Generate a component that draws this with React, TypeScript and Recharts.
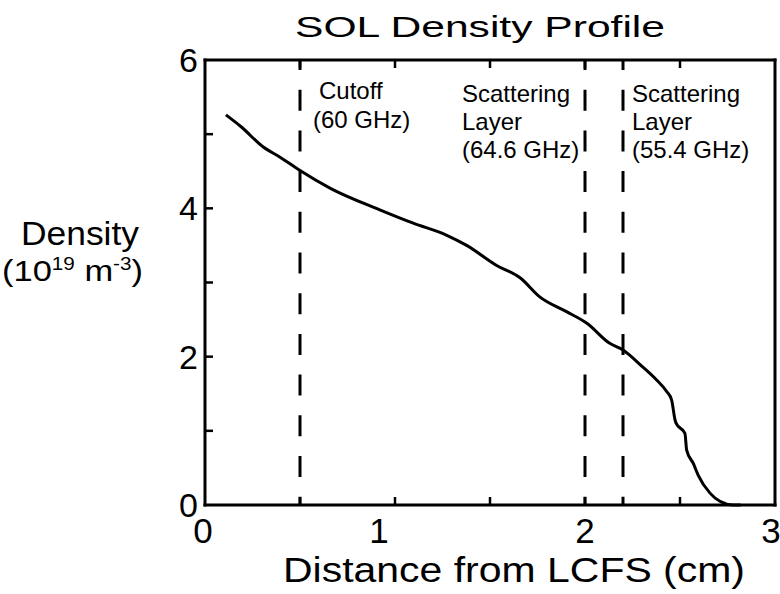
import React from 'react';
import { LineChart, Line, XAxis, YAxis, ReferenceLine } from 'recharts';

const distance = [0.11, 0.19, 0.305, 0.395, 0.5, 0.66, 0.92, 1.096, 1.27, 1.377, 1.535, 1.66, 1.76, 1.9, 2.01, 2.13, 2.2, 2.3, 2.377, 2.43, 2.456, 2.474, 2.48, 2.526, 2.535, 2.57, 2.596, 2.658, 2.71, 2.78, 2.82];
const density = [5.26, 5.1, 4.83, 4.69, 4.51, 4.27, 3.98, 3.8, 3.64, 3.5, 3.23, 3.06, 2.81, 2.61, 2.45, 2.18, 2.09, 1.87, 1.685, 1.53, 1.415, 1.146, 1.1, 0.966, 0.74, 0.56, 0.4, 0.16, 0.05, 0.0, 0.0];

const xTicks = [0, 0.5, 1, 1.5, 2, 2.5, 3];
const xTickLabels = [0, 1, 2, 3];
const yTicks = [0, 1, 2, 3, 4, 5, 6];
const yTickLabels = [0, 2, 4, 6];

const markerPositions = [0.5, 2.0, 2.2];
const markerTexts = [
  ['Cutoff', '(60 GHz)'],
  ['Scattering', 'Layer', '(64.6 GHz)'],
  ['Scattering', 'Layer', '(55.4 GHz)'],
];

const title = 'SOL Density Profile';
const xLabel = 'Distance from LCFS (cm)';
const yLabel = 'Density';

const data = distance.map((d, i) => ({ x: d, y: density[i] }));

const FONT = '"Liberation Sans", Arial, Helvetica, sans-serif';
const TICK_LEN = 8;

const BottomTick = (props: any) => {
  const { x, y, payload } = props;
  const v = payload.value;
  const showLabel = xTickLabels.includes(v);
  const inner = v !== 0 && v !== 3;
  const dx = v === 1 ? -16 : v === 3 ? -4 : v === 0 ? -2 : 0;
  return (
    <g>
      {inner && <line x1={x} y1={y} x2={x} y2={y - TICK_LEN} stroke="#000" strokeWidth={2.5} />}
      {showLabel && (
        <text x={x + dx} y={y + 38} textAnchor="middle" fontFamily={FONT} fontSize={35} fill="#000">
          {v}
        </text>
      )}
    </g>
  );
};

const TopTick = (props: any) => {
  const { x, y, payload } = props;
  const v = payload.value;
  if (v === 0 || v === 3) return <g />;
  return <line x1={x} y1={y} x2={x} y2={y + TICK_LEN} stroke="#000" strokeWidth={2.5} />;
};

const LeftTick = (props: any) => {
  const { x, y, payload } = props;
  const v = payload.value;
  const showLabel = yTickLabels.includes(v);
  const inner = v !== 0 && v !== 6;
  return (
    <g>
      {inner && <line x1={x} y1={y} x2={x + TICK_LEN} y2={y} stroke="#000" strokeWidth={2.5} />}
      {showLabel && (
        <text x={x - 7} y={y + 12} textAnchor="end" fontFamily={FONT} fontSize={34} fill="#000">
          {v}
        </text>
      )}
    </g>
  );
};

const RightTick = (props: any) => {
  const { x, y, payload } = props;
  const v = payload.value;
  if (v === 0 || v === 6) return <g />;
  return <line x1={x} y1={y} x2={x - TICK_LEN} y2={y} stroke="#000" strokeWidth={2.5} />;
};

const annotationOffsets = [
  [19, 13],
  [-123, -123, -123],
  [9, 9, 9],
];
const annotationBaselines = [
  [39, 68],
  [42, 70, 98],
  [42, 70, 98],
];

const makeLabel = (idx: number) => (p: any) => {
  const vb = p.viewBox || {};
  const lx = vb.x ?? 0;
  const ty = vb.y ?? 0;
  return (
    <g>
      {markerTexts[idx].map((t, i) => (
        <text
          key={i}
          x={lx + annotationOffsets[idx][i]}
          y={ty + annotationBaselines[idx][i]}
          fontFamily={FONT}
          fontSize={24}
          fill="#000"
        >
          {t}
        </text>
      ))}
    </g>
  );
};

const axisLineStyle = { stroke: '#000', strokeWidth: 3, strokeLinecap: 'square' as const };

export default function App() {
  return (
    <div style={{ position: 'absolute', left: 0, top: 0, width: 780, height: 594, background: '#fff' }}>
      <LineChart width={780} height={594} data={data} margin={{ top: 59, right: 4, bottom: 0, left: 0 }}>
        <XAxis
          dataKey="x"
          type="number"
          domain={[0, 3]}
          ticks={xTicks}
          interval={0}
          height={89}
          tickSize={0}
          tickMargin={0}
          tickLine={false}
          tick={<BottomTick />}
          axisLine={axisLineStyle}
        />
        <XAxis
          xAxisId="top"
          orientation="top"
          dataKey="x"
          type="number"
          domain={[0, 3]}
          ticks={xTicks}
          interval={0}
          height={1}
          tickSize={0}
          tickMargin={0}
          tickLine={false}
          tick={<TopTick />}
          axisLine={axisLineStyle}
        />
        <YAxis
          type="number"
          domain={[0, 6]}
          ticks={yTicks}
          interval={0}
          width={205}
          tickSize={0}
          tickMargin={0}
          tickLine={false}
          tick={<LeftTick />}
          axisLine={axisLineStyle}
        />
        <YAxis
          yAxisId="right"
          orientation="right"
          type="number"
          domain={[0, 6]}
          ticks={yTicks}
          interval={0}
          width={1}
          tickSize={0}
          tickMargin={0}
          tickLine={false}
          tick={<RightTick />}
          axisLine={axisLineStyle}
        />
        {markerPositions.map((m, i) => (
          <ReferenceLine
            key={i}
            x={m}
            stroke="#000"
            strokeWidth={3}
            strokeDasharray="21 19.7"
            strokeDashoffset={12.7}
            label={makeLabel(i)}
          />
        ))}
        <Line
          type="monotone"
          dataKey="y"
          stroke="#000"
          strokeWidth={3}
          dot={false}
          isAnimationActive={false}
        />
      </LineChart>
      <svg width={780} height={594} style={{ position: 'absolute', left: 0, top: 0, pointerEvents: 'none' }}>
        <text x={295} y={37} fontFamily={FONT} fontSize={30} textLength={370} lengthAdjust="spacingAndGlyphs" fill="#000">
          {title}
        </text>
        <text x={283} y={582} fontFamily={FONT} fontSize={35} textLength={462} lengthAdjust="spacingAndGlyphs" fill="#000">
          {xLabel}
        </text>
        <text x={21} y={245} fontFamily={FONT} fontSize={33} textLength={118} lengthAdjust="spacingAndGlyphs" fill="#000">
          {yLabel}
        </text>
        <text x={2} y={281} fontFamily={FONT} fontSize={30} textLength={141} lengthAdjust="spacingAndGlyphs" fill="#000">
          (10
          <tspan fontSize={18} dy={-11}>19</tspan>
          <tspan fontSize={30} dy={11}> m</tspan>
          <tspan fontSize={18} dy={-11}>-3</tspan>
          <tspan fontSize={30} dy={11}>)</tspan>
        </text>
      </svg>
    </div>
  );
}
